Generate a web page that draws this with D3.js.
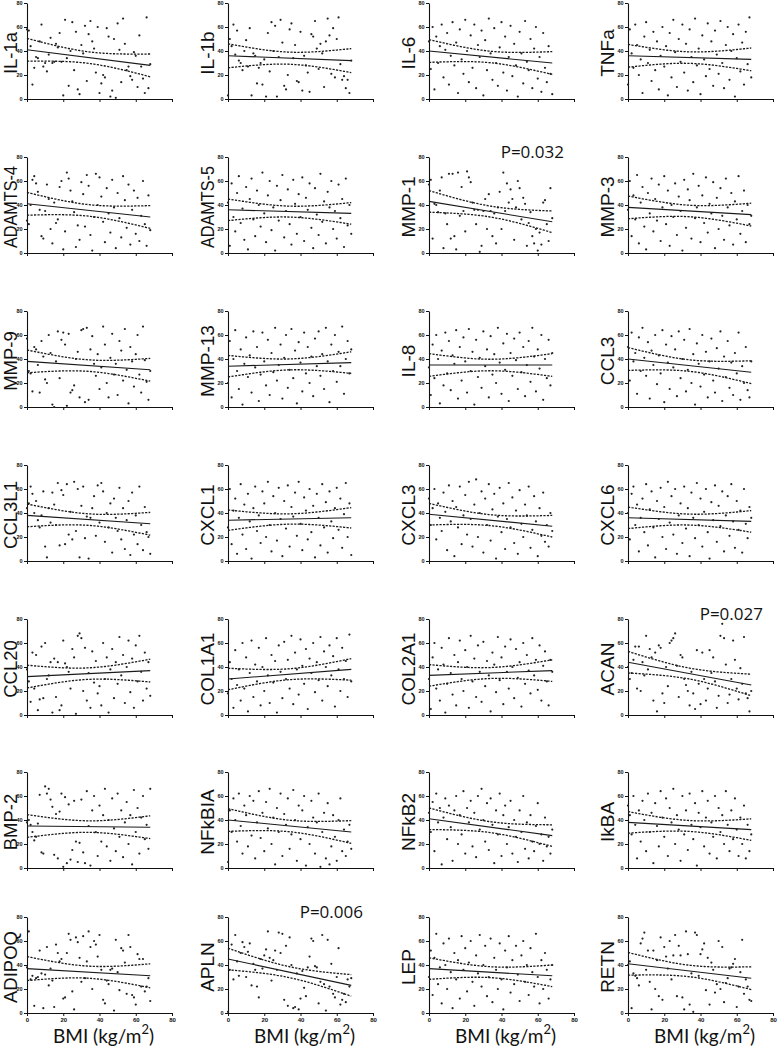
<!DOCTYPE html>
<html><head><meta charset="utf-8">
<script src="https://cdn.jsdelivr.net/npm/d3@7"></script>
<style>body{margin:0;background:#fff}svg{display:block}</style>
</head><body>
<svg id="chart" width="778" height="1050"></svg>
<script>
// shared x values (BMI)
const bmi = [0,1,2,3,4,5,6,7,8,9,10,11,12,13,14,15,16,17,18,19,20,21,22,23,24,25,26,27,28,29,30,31,32,33,34,35,36,37,38,39,40,41,42,43,44,45,46,47,48,49,50,51,52,53,54,55,56,57,58,59,60,61,62,63,64,65,66,67,68];
const xTicks = [0,20,40,60,80];
const yTicks = [0,20,40,60,80];
const xTitle = "BMI (kg/m";
const xTitleSup = "2";

const panelNames = ["IL-1a","IL-1b","IL-6","TNFa","ADAMTS-4","ADAMTS-5","MMP-1","MMP-3","MMP-9","MMP-13","IL-8","CCL3","CCL3L1","CXCL1","CXCL3","CXCL6","CCL20","COL1A1","COL2A1","ACAN","BMP-2","NFkBIA","NFkB2","IkBA","ADIPOQ","APLN","LEP","RETN"];

const il1a = [58,57,44,12,26,35,34,48,62,27, 30,23,37,51,30,31,46,43,55,31, 3,66,34,11,40,64,24,56,8,4, 45,38,61,15,54,65,48,42,22,60, 5,13,20,18,59,52,2,7,50,1, 63,41,14,67,46,24,27,19,16,39, 36,10,53,27,17,5,68,9,29];
const il1b = [3,50,44,62,37,57,32,30,24,40, 49,27,59,3,38,36,13,26,30,12, 33,2,55,23,64,40,61,2,35,66, 47,11,8,20,58,63,34,45,15,14, 56,7,36,28,22,6,54,52,65,42, 25,46,38,10,48,67,53,21,59,18, 50,68,29,16,19,9,16,5,32];
const il6 = [48,25,60,8,52,30,44,62,18,41, 55,12,36,64,28,47,5,58,33,21, 66,40,14,53,26,62,9,45,35,57, 3,49,24,67,38,16,59,30,11,43, 64,22,52,7,35,61,19,46,28,2, 56,38,13,65,31,24,50,9,42,60, 17,35,6,55,26,14,44,21,4];
const tnfa = [12,58,38,26,62,45,20,33,5,52, 64,30,41,15,56,24,48,8,36,60, 27,44,3,55,18,66,39,10,50,31, 62,22,46,7,58,35,14,67,28,42, 4,53,33,19,63,25,48,11,57,37, 21,65,30,9,45,60,16,40,54,2, 34,62,23,47,12,56,29,68,18];
const adamts4 = [27,24,40,61,64,58,51,36,14,12, 35,57,45,20,8,42,25,28,55,60, 3,18,67,62,52,43,34,5,23,11, 59,49,22,65,56,15,2,30,66,40, 63,47,26,9,54,33,17,61,38,4, 50,29,13,64,44,21,57,7,36,52, 16,46,10,31,60,24,6,48,19];
const adamts5 = [42,6,58,30,18,50,64,25,37,11, 55,3,45,62,28,14,52,40,22,67, 33,9,48,60,19,38,2,56,27,44, 65,13,35,53,24,7,61,41,16,49, 30,63,10,46,36,58,21,4,54,32, 15,66,26,43,8,51,38,60,20,35, 12,57,29,45,5,62,23,40,16];
const mmp1 = [57,61,12,41,40,34,52,63,4,33, 24,66,12,66,14,3,67,31,55,35, 18,68,63,59,42,36,24,36,1,6, 35,45,20,49,35,14,33,8,38,51, 20,67,35,58,42,53,45,11,38,60, 54,28,46,41,6,25,34,14,8,20, 2,17,7,42,44,24,10,54,29];
const mmp3 = [36,60,14,48,28,65,8,42,55,22, 3,50,33,62,18,45,27,57,10,38, 64,24,52,6,40,30,58,15,47,35, 2,61,21,53,44,12,66,29,38,56, 9,48,25,63,17,41,33,59,4,46, 20,54,31,11,62,38,23,50,7,43, 28,64,16,35,52,9,40,24,31];
const mmp9 = [57,30,28,13,50,48,35,12,55,42, 23,20,60,45,2,0,38,63,24,56, 62,52,1,61,12,14,18,40,46,8, 64,65,4,66,6,48,59,36,26,44, 15,33,67,52,20,8,41,61,27,36, 10,55,47,22,65,31,3,50,38,17, 44,60,27,12,67,39,21,6,30];
const mmp13 = [20,55,8,40,64,30,15,48,2,36, 58,25,43,12,63,33,50,5,27,62, 38,18,56,10,45,29,66,22,35,52, 7,41,60,16,31,65,24,47,3,54, 37,13,62,28,50,20,42,9,57,34, 63,26,44,15,66,38,4,52,30,60, 21,46,34,67,11,40,55,28,48];
const il8 = [33,10,52,24,60,40,3,47,18,62, 28,55,14,43,36,64,7,50,22,58, 38,12,65,30,46,2,56,25,41,16, 63,34,48,8,59,27,44,20,66,37, 11,53,31,61,5,45,26,57,39,15, 62,29,50,9,35,55,21,66,42,13, 48,32,60,6,40,24,56,18,45];
const ccl3 = [50,22,62,38,45,11,58,30,66,41, 26,54,7,47,35,60,19,43,28,64, 4,52,37,15,59,33,48,9,63,24, 40,56,13,31,65,20,44,2,53,36, 17,60,27,46,8,38,57,22,12,49, 32,63,5,42,25,55,16,37,10,45, 28,62,6,34,20,50,14,8,38];
const ccl3l1 = [44,48,62,56,40,50,34,28,38,58, 12,3,44,32,57,47,30,65,13,59, 55,14,64,22,41,18,66,25,60,3, 46,62,19,37,2,36,44,54,21,63, 32,65,58,16,40,28,48,7,52,36, 25,61,18,44,10,34,50,5,57,22, 38,14,62,30,9,45,24,20,6];
const cxcl1 = [28,60,14,42,52,6,36,64,22,47, 10,56,33,2,44,62,25,38,15,58, 48,20,66,30,8,54,40,17,61,35, 4,50,27,63,12,45,37,57,21,66, 31,9,53,42,18,60,24,46,3,56, 36,13,64,28,49,7,58,33,19,44, 61,26,52,11,39,65,20,48,5];
const cxcl3 = [52,30,44,60,18,48,36,25,57,41, 9,63,33,50,4,45,28,62,14,38, 55,22,66,35,12,47,68,20,40,58, 7,52,30,64,17,43,56,2,37,61, 24,48,10,35,65,28,53,15,42,6, 59,31,20,47,38,62,11,26,54,33, 4,44,21,57,16,30,12,40,25];
const cxcl6 = [40,18,56,62,30,47,8,36,52,24, 64,13,43,58,28,3,50,35,61,20, 45,10,66,32,54,22,60,6,38,48, 15,62,27,44,4,57,36,19,65,30, 52,12,41,60,24,2,49,34,63,16, 46,29,58,8,38,54,21,64,33,11, 50,26,42,7,60,31,19,45,36];
const ccl20 = [38,28,11,52,22,50,4,13,57,14, 60,30,33,44,2,47,15,44,4,8, 62,43,40,36,22,55,48,1,66,68, 64,20,56,12,35,6,53,27,45,18, 24,8,60,30,48,2,38,55,14,44, 26,65,33,50,10,40,62,19,47,6, 58,28,66,36,12,52,22,44,16];
const col1a1 = [18,44,30,6,54,25,38,12,60,22, 48,3,35,62,15,42,28,56,8,40, 20,64,33,10,50,27,45,2,58,36, 14,61,30,46,22,66,9,52,38,17, 63,41,26,55,5,47,35,60,19,44, 29,65,12,53,40,24,58,33,49,7, 64,38,20,56,30,45,15,67,28];
const col2a1 = [30,5,48,60,22,38,12,56,42,2, 26,64,35,17,50,8,44,62,30,20, 54,40,6,66,28,47,15,58,36,11, 61,24,45,33,3,52,42,19,65,29, 48,9,57,36,22,63,40,14,55,31, 44,7,60,26,50,37,18,64,33,46, 21,58,12,41,53,28,8,46,36];
const acan = [40,30,35,46,57,22,57,20,44,33, 66,38,55,48,12,52,3,58,56,18, 10,40,24,60,62,64,68,41,15,50, 48,30,25,20,8,36,18,5,54,26, 9,52,30,12,22,54,35,48,28,6, 16,66,76,64,42,10,17,30,62,46, 22,13,39,26,65,18,14,3,20];
const bmp2 = [38,40,36,30,23,26,37,61,13,12, 68,62,66,57,51,11,45,8,47,62, 1,59,4,53,7,15,56,22,5,21, 57,13,4,64,35,2,48,60,30,10, 52,22,44,66,18,40,6,58,33,14, 62,26,48,9,38,55,20,44,3,65, 30,50,12,42,60,24,36,16,66];
const nfkbia = [5,48,30,58,40,22,62,35,12,52, 44,18,60,27,56,8,38,64,25,46, 14,55,33,66,20,42,3,50,30,62, 10,45,36,58,16,28,65,40,6,52, 24,48,60,2,34,20,56,42,12,38, 62,1,30,46,8,54,3,18,44,26, 6,40,58,14,32,10,22,36,16];
const nfkb2 = [46,30,55,14,62,38,50,3,42,58, 24,52,34,6,48,60,20,44,28,64, 12,50,38,56,18,46,9,60,32,66, 40,22,54,15,58,36,4,48,28,62, 10,44,52,20,34,56,12,40,26,5, 48,30,60,16,38,8,44,22,14,35, 54,20,28,6,42,18,26,12,32];
const ikba = [52,44,28,60,36,8,48,22,56,40, 14,62,30,46,4,54,35,18,64,42, 26,58,10,50,38,66,20,44,32,6, 60,28,48,15,62,36,24,54,2,46, 34,64,18,42,56,12,38,26,60,8, 50,30,44,20,64,36,14,48,24,58, 32,10,42,20,52,8,36,14,28];
const adipoq = [38,68,28,31,6,29,30,52,33,4, 32,55,23,37,27,5,57,50,43,45, 12,13,50,66,61,18,3,63,59,46, 26,64,29,43,68,55,20,60,57,47, 65,36,11,8,27,24,36,37,2,61, 34,19,54,52,42,16,65,55,15,13, 7,49,45,22,45,18,22,29,10];
const apln = [1,36,57,28,65,43,31,50,59,55, 30,51,58,23,41,36,22,13,45,37, 48,53,68,46,27,44,52,36,67,50, 66,11,56,6,63,40,4,5,33,3, 12,35,21,14,38,47,62,60,39,38, 8,26,65,24,2,61,22,41,16,13, 30,54,7,11,16,9,28,22,29];
const lep = [30,52,15,46,66,24,38,8,58,40, 20,62,34,4,50,28,44,12,64,36, 54,18,42,60,26,6,48,33,65,22, 40,56,14,30,62,9,46,36,20,58, 28,3,52,38,64,17,44,24,56,32, 10,48,60,26,40,15,54,34,22,66, 30,8,44,20,50,36,12,28,40];
const retn = [40,43,4,33,31,29,23,58,62,67, 36,52,26,3,52,20,44,14,63,11, 55,47,37,60,28,48,65,14,56,48, 13,3,68,49,7,33,1,67,65,31, 49,53,58,19,46,7,42,36,17,24, 60,20,55,9,25,29,37,38,41,45, 5,22,34,61,16,28,22,11,10];

const panelValues = [il1a,il1b,il6,tnfa,adamts4,adamts5,mmp1,mmp3,mmp9,mmp13,il8,ccl3,ccl3l1,cxcl1,cxcl3,cxcl6,ccl20,col1a1,col2a1,acan,bmp2,nfkbia,nfkb2,ikba,adipoq,apln,lep,retn];

// fitted regression line value at BMI 0 and BMI 68, and 95% band half-width at the ends
const fitAt0  = [41,36,40,36, 41,36,43,38, 38,34,35,40, 38,34,39,36, 32,30,33,44, 35,40,41,38, 37,45,37,41];
const fitAt68 = [28,32,30,33, 30,33,26,32, 31,37,35,29, 31,36,29,33, 37,38,37,25, 34,30,27,32, 31,23,31,29];
const ciHalf  = [9.5,10,9.5,9.5, 9.5,9,9,9.5, 9.5,9,9.5,9.5, 9.5,8.5,9,9, 9.5,9,9,9, 9.5,9.5,9,9, 10,9,9,9.5];

const pPanels = ["MMP-1","ACAN","APLN"];
const pTexts  = ["P=0.032","P=0.027","P=0.006"];

// ---------- layout ----------
const svg = d3.select("#chart");
const colX = [27, 228, 429, 628];
const labelGap = [10.2, 14, 14, 14];
const labelSize = [18.5, 19, 19, 19];
const rowTop = [3, 157, 311, 465, 619, 772, 917];
const panelW = 145, panelH = 96;
const nCols = 4;
const nRows = rowTop.length;

const n = bmi.length;
const xMean = d3.mean(bmi);
const sxx = d3.sum(bmi, v => (v - xMean) ** 2);
const xFirst = d3.min(bmi), xLast = d3.max(bmi);
const seShape = x => Math.sqrt(1 / n + (x - xMean) ** 2 / sxx);
const seEnd = seShape(xFirst);

panelNames.forEach((name, i) => {
  const r = Math.floor(i / nCols), c = i % nCols;
  const x0 = colX[c], top = rowTop[r];
  const x = d3.scaleLinear().domain([0, 80]).range([x0, x0 + panelW]);
  const y = d3.scaleLinear().domain([0, 80]).range([top + panelH, top]);
  const g = svg.append("g");
  const vals = panelValues[i];

  // axes
  const ya = g.append("g").attr("transform", `translate(${x0},0)`)
    .call(d3.axisLeft(y).tickValues(yTicks).tickSize(3).tickSizeOuter(0).tickPadding(1.5));
  ya.selectAll("text").attr("font-size", 5.5).attr("font-weight", "bold").attr("font-family", "Liberation Sans, Arial, sans-serif").attr("fill", "#111");
  const xa = g.append("g").attr("transform", `translate(0,${top + panelH})`)
    .call(d3.axisBottom(x).tickValues(xTicks).tickSize(3).tickSizeOuter(0).tickPadding(2));
  if (r === nRows - 1) {
    xa.selectAll("text").attr("font-size", 6).attr("font-weight", "bold").attr("font-family", "Liberation Sans, Arial, sans-serif").attr("fill", "#111");
  } else {
    xa.selectAll("text").remove();
  }
  g.selectAll(".domain").attr("stroke", "#111").attr("stroke-width", 1.1);
  g.selectAll(".tick line").attr("stroke", "#111").attr("stroke-width", 1);

  // regression line and confidence band
  const slope = (fitAt68[i] - fitAt0[i]) / 68;
  const fit = v => fitAt0[i] + slope * v;
  const half = v => ciHalf[i] * seShape(v) / seEnd;
  const line = d3.line().x(d => x(d[0])).y(d => y(d[1]));
  g.append("path").attr("d", line([[xFirst, fit(xFirst)], [xLast, fit(xLast)]]))
    .attr("fill", "none").attr("stroke", "#1a1a1a").attr("stroke-width", 1.1);
  const up = bmi.map(v => [v, fit(v) + half(v)]);
  const lo = bmi.map(v => [v, fit(v) - half(v)]);
  const curve = d3.line().x(d => x(d[0])).y(d => y(d[1])).curve(d3.curveMonotoneX);
  [up, lo].forEach(b => g.append("path").attr("d", curve(b))
    .attr("fill", "none").attr("stroke", "#1a1a1a").attr("stroke-width", 1.3)
    .attr("stroke-dasharray", "2.2,1.3"));

  // points
  g.append("g").selectAll("circle").data(vals).join("circle")
    .attr("cx", (d, k) => x(bmi[k])).attr("cy", d => y(d)).attr("r", 1.1).attr("fill", "#222");

  // y label
  const lab = g.append("text")
    .attr("transform", `translate(${x0 - labelGap[c]},${top + panelH / 2 + 2}) rotate(-90)`)
    .attr("text-anchor", "middle")
    .attr("font-family", "Liberation Sans, Arial, sans-serif")
    .attr("font-size", labelSize[c]).attr("fill", "#111").text(name);
  const L = lab.node().getComputedTextLength();
  if (L > 82) lab.attr("textLength", 82).attr("lengthAdjust", "spacingAndGlyphs");

  // p value
  const pi = pPanels.indexOf(name);
  if (pi >= 0) {
    g.append("text").attr("x", x(57)).attr("y", top + 1).attr("text-anchor", "middle")
      .attr("font-family", "Open Sans, sans-serif").attr("font-size", 17).attr("fill", "#111")
      .text(pTexts[pi]);
  }

  // x title
  if (r === nRows - 1) {
    const t = g.append("text").attr("x", x(40) + 4).attr("y", top + panelH + 30)
      .attr("text-anchor", "middle").attr("font-family", "Lato, sans-serif")
      .attr("font-size", 19).attr("fill", "#111");
    t.append("tspan").text(xTitle);
    t.append("tspan").attr("dy", -9).attr("font-size", 13).text(xTitleSup);
    t.append("tspan").attr("dy", 9).text(")");
  }
});
</script>
</body></html>
